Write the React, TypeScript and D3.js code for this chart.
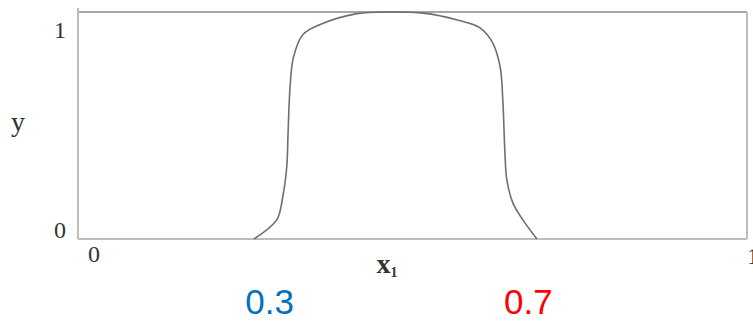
import React from "react";
import * as d3 from "d3";

// Response curve y(x1): rises steeply near 0.3, plateaus at 1, falls near 0.7
const xValues = [0.263, 0.297, 0.306, 0.312, 0.314, 0.317, 0.322, 0.336, 0.362, 0.417, 0.466, 0.516, 0.567, 0.601, 0.62, 0.631, 0.635, 0.638, 0.641, 0.65, 0.665, 0.686];
const yValues = [0.0, 0.084, 0.185, 0.317, 0.467, 0.67, 0.8, 0.9, 0.945, 0.993, 1.0, 0.995, 0.965, 0.93, 0.863, 0.758, 0.612, 0.392, 0.26, 0.159, 0.084, 0.0];

const yTickLabels = ["0", "1"];
const xTickLabels = ["0", "1"];
const markerValues = [0.3, 0.7];
const markerLabels = ["0.3", "0.7"];
const markerColors = ["#0070C0", "#FF0000"];
const markerShift = [-9, -18];

const WIDTH = 753;
const HEIGHT = 321;
const left = 78;
const right = 747;
const top = 12;
const bottom = 239;

export default function App() {
  const x = d3.scaleLinear().domain([0, 1]).range([left, right]);
  const y = d3.scaleLinear().domain([0, 1]).range([bottom, top]);
  const points: [number, number][] = xValues.map((v, i) => [v, yValues[i]]);
  const line = d3
    .line<[number, number]>()
    .x((d) => x(d[0]))
    .y((d) => y(d[1]))
    .curve(d3.curveCatmullRom.alpha(0.5));

  const serif = "'Liberation Serif', 'DejaVu Serif', serif";
  const sans = "'Liberation Sans', Arial, sans-serif";

  return (
    <svg
      width={WIDTH}
      height={HEIGHT}
      style={{ position: "absolute", left: 0, top: 0, background: "#fff" }}
    >
      {/* frame */}
      <line x1={x(0)} x2={x(1)} y1={y(1)} y2={y(1)} stroke="#a6a6a6" strokeWidth={2} />
      <line x1={x(0)} x2={x(1)} y1={y(0)} y2={y(0)} stroke="#bdbdbd" strokeWidth={2} />
      <line x1={x(0)} x2={x(0)} y1={y(1) - 4} y2={y(0)} stroke="#bdbdbd" strokeWidth={2} />
      <line x1={x(1)} x2={x(1)} y1={y(1)} y2={y(0)} stroke="#bdbdbd" strokeWidth={2} />

      <path d={line(points) ?? ""} fill="none" stroke="#6e6e6e" strokeWidth={1.6} />

      {/* y axis labels */}
      <text x={x(0) - 12} y={y(1) + 26} fontFamily={serif} fontSize={24} fill="#333" textAnchor="end">
        {yTickLabels[1]}
      </text>
      <text x={x(0) - 12} y={y(0) - 1} fontFamily={serif} fontSize={24} fill="#333" textAnchor="end">
        {yTickLabels[0]}
      </text>
      <text x={18} y={131} fontFamily={serif} fontSize={28} fill="#333" textAnchor="middle">
        y
      </text>

      {/* x axis labels */}
      <text x={x(0) + 16} y={262} fontFamily={serif} fontSize={24} fill="#333" textAnchor="middle">
        {xTickLabels[0]}
      </text>
      <text x={x(1) + 6} y={264} fontFamily={serif} fontSize={24} fill="#333" textAnchor="middle">
        {xTickLabels[1]}
      </text>
      <text x={387} y={273} fontFamily={serif} fontSize={28} fontWeight="bold" fill="#333" textAnchor="middle">
        x<tspan fontSize={14} dy={4}>1</tspan>
      </text>

      {/* highlighted transition points */}
      {markerValues.map((v, i) => (
        <text
          key={markerLabels[i]}
          x={x(v) + markerShift[i]}
          y={314}
          fontFamily={sans}
          fontSize={35}
          fill={markerColors[i]}
          textAnchor="middle"
        >
          {markerLabels[i]}
        </text>
      ))}
    </svg>
  );
}
